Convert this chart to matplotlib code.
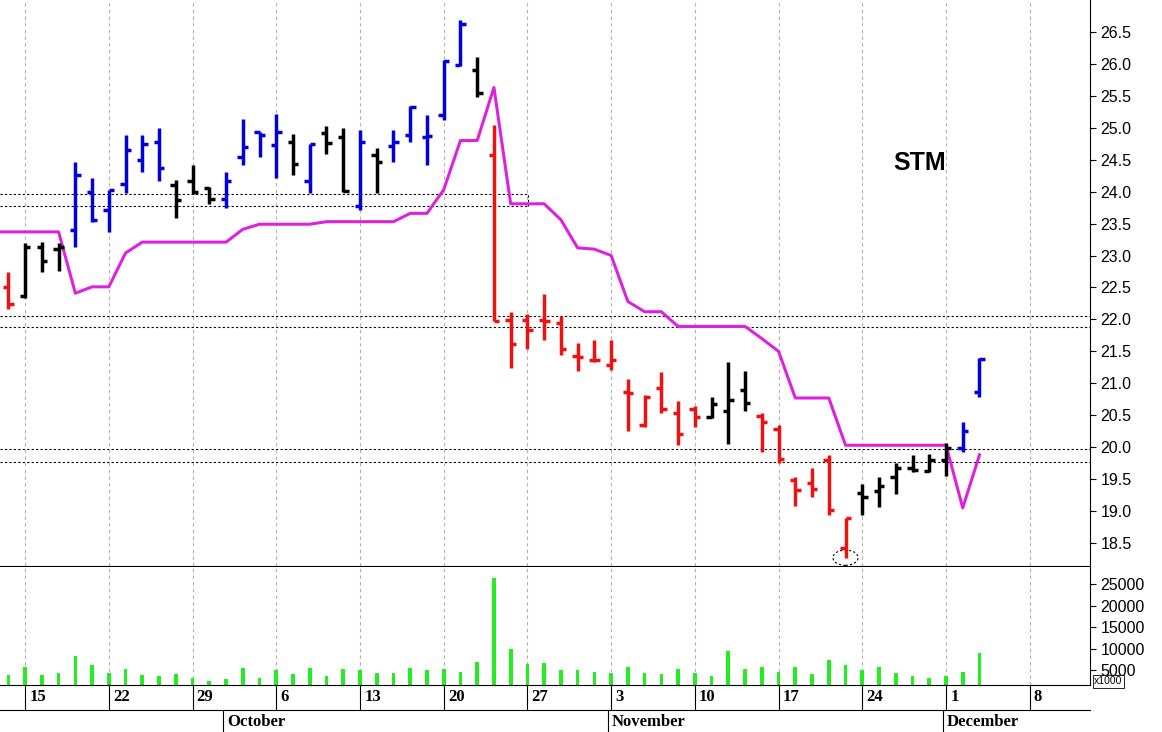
import matplotlib
matplotlib.use("Agg")
import matplotlib.pyplot as plt
import matplotlib.transforms as mtransforms
from matplotlib.patches import Ellipse

# trading-day index: 0 = Mon Sep 15
idx = list(range(-1, 58))
opens = [22.51,22.36,23.14,23.11,23.40,24.00,23.72,24.12,24.50,24.78,24.10,24.16,24.05,23.89,24.55,24.93,24.73,24.78,24.16,24.92,
         24.86,23.78,24.57,24.72,24.89,24.86,25.20,25.98,25.90,24.58,21.99,21.99,21.99,21.94,21.42,21.37,21.29,20.87,20.34,20.92,
         20.53,20.59,20.48,20.57,20.90,20.49,20.28,19.49,19.44,19.80,18.42,19.28,19.32,19.54,19.67,19.62,19.80,19.99,20.87]
highs = [22.75,23.19,23.21,23.19,24.46,24.21,24.03,24.89,24.89,25.00,24.18,24.42,24.08,24.30,25.13,24.94,25.21,24.91,24.74,25.03,
         25.00,24.96,24.68,24.96,25.34,25.20,26.06,26.69,26.10,25.04,22.12,22.08,22.40,22.05,21.63,21.67,21.68,21.07,20.82,21.17,
         20.73,20.65,20.79,21.33,21.20,20.53,20.34,19.54,19.67,19.88,18.89,19.43,19.54,19.76,19.87,19.90,20.06,20.39,21.39]
lows = [22.17,22.34,22.75,22.76,23.13,23.53,23.37,23.98,24.31,24.16,23.58,23.97,23.81,23.74,24.41,24.55,24.21,24.26,23.98,24.59,
        24.00,23.72,23.98,24.47,24.77,24.41,25.12,25.97,25.48,21.97,21.24,21.54,21.68,21.45,21.20,21.33,21.21,20.25,20.32,20.54,
        20.04,20.32,20.46,20.05,20.57,19.92,19.76,19.08,19.22,18.94,18.26,18.94,19.06,19.27,19.61,19.61,19.55,19.93,20.79]
closes = [22.24,23.14,22.91,23.14,24.26,23.56,24.03,24.65,24.75,24.37,23.87,24.00,23.89,24.16,24.70,24.89,24.93,24.44,24.74,24.76,
          24.01,24.78,24.47,24.78,25.32,24.87,26.05,26.62,25.54,21.97,21.62,21.84,21.97,21.54,21.41,21.37,21.36,20.85,20.79,20.59,
          20.21,20.47,20.68,20.74,20.69,20.40,19.82,19.33,19.34,19.02,18.89,19.22,19.39,19.67,19.64,19.80,19.99,20.25,21.38]
bar_colors = (['r'] + ['k']*3 + ['b']*6 + ['k']*3 + ['b']*4 + ['k','b','k','k','b','k'] + ['b']*5 + ['k'] + ['r']*13
              + ['k']*3 + ['r']*6 + ['k']*6 + ['b']*2)
volume_k = [3.75,5.6,3.75,4.2,8.2,6.1,4.3,5.2,3.8,3.7,4.0,3.1,2.5,2.8,5.5,3.2,5.1,4.0,5.5,3.5,
            5.2,4.9,4.2,4.2,5.5,4.9,5.2,4.6,6.9,26.5,9.9,6.4,6.6,5.1,4.9,4.6,4.2,5.7,4.2,4.0,
            5.2,4.2,3.5,9.4,5.2,5.6,4.6,5.8,4.0,7.3,6.1,4.9,5.6,4.2,3.5,3.1,3.5,4.6,9.0]
stop_idx = [-1.5,-1,0,1,2,3,4,5,6,7,8,9,10,11,12,13,14,15,16,17,18,19,20,21,22,23,24,25,26,27,28,29,30,31,32,33,34,35,36,37,38,
            39,40,41,42,43,44,45,46,47,48,49,50,51,52,53,54,55,56,57]
stop_vals = [23.37,23.37,23.37,23.37,23.37,22.41,22.51,22.51,23.04,23.21,23.21,23.21,23.21,23.21,23.21,23.41,23.49,23.49,23.49,23.49,
             23.53,23.53,23.53,23.53,23.53,23.66,23.66,24.03,24.80,24.80,25.63,23.81,23.81,23.81,23.56,23.12,23.10,23.00,22.28,22.12,22.12,
             21.89,21.89,21.89,21.89,21.89,21.70,21.50,20.77,20.77,20.77,20.03,20.03,20.03,20.03,20.03,20.03,20.03,19.05,19.88]
short_levels = [23.97, 23.77]
long_levels = [22.06, 21.88, 19.97, 19.77]
week_idx = [0,5,10,15,20,25,30,35,40,45,50,55,60]
week_labels = ['15','22','29','6','13','20','27','3','10','17','24','1','8']
month_idx = [12, 35, 55]
month_labels = ['October','November','December']
ticker = 'STM'

cmap = {'r':'#ee1111','k':'#000000','b':'#0000dd'}
W, H = 1162, 732
fig = plt.figure(figsize=(W/100, H/100), dpi=100)
axp = fig.add_axes([0, 1-566/H, 1090/W, 566/H])
axv = fig.add_axes([0, 1-685/H, 1090/W, 118/H], sharex=axp)
xl = (-1.5, 63.6)

for ax in (axp, axv):
    for x in week_idx:
        ax.axvline(x, color='#b0b0b0', ls=(0,(3,3)), lw=0.8, zorder=0)
    ax.yaxis.tick_right()
    ax.tick_params(axis='y', direction='out', labelsize=11.5, length=4)
    ax.spines['top'].set_visible(False)
    ax.spines['left'].set_visible(False)

axp.set_xlim(*xl)
axp.set_ylim(18.14, 27.0)
axp.set_yticks([18.5+0.5*k for k in range(17)])
axp.set_yticklabels([f"{18.5+0.5*k:.1f}" for k in range(17)], family='Liberation Sans')
axp.tick_params(axis='x', bottom=False, labelbottom=False)

for y in short_levels:
    axp.hlines(y, xl[0], 30.06, colors='k', linestyles=(0,(2,2)), lw=0.8)
axp.vlines(30.06, short_levels[1], short_levels[0], colors='k', linestyles=(0,(2,2)), lw=0.8)
for y in long_levels:
    axp.axhline(y, color='k', ls=(0,(2,2)), lw=0.8)

axp.plot(stop_idx, stop_vals, color='#dd22dd', lw=2.2, zorder=2)
tw = 0.32
for i, o, h, l, c, col in zip(idx, opens, highs, lows, closes, bar_colors):
    cc = cmap[col]
    axp.vlines(i, l, h, colors=cc, lw=2.5, zorder=3)
    axp.hlines(o, i-tw, i, colors=cc, lw=2.5, zorder=3)
    axp.hlines(c, i, i+tw, colors=cc, lw=2.5, zorder=3)

axp.add_patch(Ellipse((49, 18.27), 1.5, 0.24, fill=False, ls=(0,(2,2)), lw=0.8, ec='k'))
axp.text(53.4, 24.45, ticker, fontsize=18, fontweight='bold', family='Liberation Sans', ha='center', va='center')

axv.bar(idx, volume_k, width=0.22, color='#22ee22', bottom=0)
axv.set_ylim(1.5, 29)
axv.set_yticks([5,10,15,20,25])
axv.set_yticklabels(['5000','10000','15000','20000','25000'], family='Liberation Sans')
axv.set_xticks(week_idx)
axv.tick_params(axis='x', bottom=False, labelbottom=False)
axv.text(1.004, 0.03, 'x1000', transform=axv.transAxes, fontsize=7.5, family='Liberation Sans',
         va='center', ha='left', zorder=5,
         bbox=dict(boxstyle='square,pad=0.15', fc='white', ec='k', lw=0.6))

tr = mtransforms.blended_transform_factory(axv.transData, axv.transAxes)
for x, lab in zip(week_idx, week_labels):
    axv.plot([x, x], [0, -0.21], transform=tr, color='k', lw=0.8, clip_on=False)
    axv.text(x+0.25, -0.1, lab, transform=tr, fontsize=12, fontweight='bold', family='Liberation Serif',
             ha='left', va='center', clip_on=False)
for x, lab in zip(month_idx, month_labels):
    axv.plot([x-0.2, x-0.2], [-0.21, -0.40], transform=tr, color='k', lw=0.8, clip_on=False)
    axv.text(x+0.05, -0.31, lab, transform=tr, fontsize=12, fontweight='bold', family='Liberation Serif',
             ha='left', va='center', clip_on=False)
fig.add_artist(plt.Line2D([0, 1090/W], [1-710/H, 1-710/H], color='k', lw=0.8))

fig.savefig('out.png', dpi=100, facecolor='white')
